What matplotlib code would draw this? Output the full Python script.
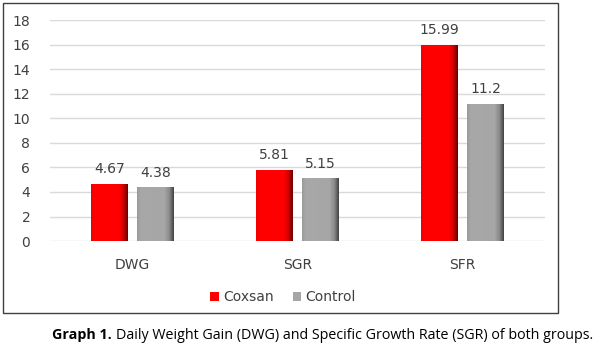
import numpy as np
import matplotlib.pyplot as plt
from matplotlib.patches import Rectangle
from matplotlib.colors import LinearSegmentedColormap

categories = ['DWG', 'SGR', 'SFR']
coxsan = [4.67, 5.81, 15.99]
control = [4.38, 5.15, 11.2]
coxsan_labels = ['4.67', '5.81', '15.99']
control_labels = ['4.38', '5.15', '11.2']

fig = plt.figure(figsize=(6, 3.52), dpi=100)
ax = fig.add_axes([0.083, 0.315, 0.825, 0.628])

x = np.arange(len(categories))
w = 0.22
off = 0.14

b1 = ax.bar(x - off, coxsan, w, color='#ff0000', label='Coxsan', zorder=2)
b2 = ax.bar(x + off, control, w, color='#a6a6a6', label='Control', zorder=2)

# shaded right edge on the bars (like the 3D look of the original)
grad = np.linspace(0, 1, 100).reshape(1, -1)
cm_red = LinearSegmentedColormap.from_list(
    'r', [(0, '#f00000'), (0.1, '#ff0000'), (0.75, '#ff0000'), (0.88, '#d00000'), (1, '#6a0000')])
cm_gray = LinearSegmentedColormap.from_list(
    'g', [(0, '#9a9a9a'), (0.1, '#a8a8a8'), (0.75, '#a6a6a6'), (0.88, '#8a8a8a'), (1, '#444444')])
for bars, cmap in [(b1, cm_red), (b2, cm_gray)]:
    for p in bars:
        x0, y0 = p.get_x(), p.get_y()
        im = ax.imshow(grad, cmap=cmap, aspect='auto', zorder=2.5,
                       extent=[x0, x0 + p.get_width(), y0, y0 + p.get_height()])
        im.set_clip_path(p)

for p, t in zip(b1, coxsan_labels):
    ax.text(p.get_x() + p.get_width() / 2, p.get_height() + 0.6, t,
            ha='center', va='bottom', fontsize=10, color='#404040')
for p, t in zip(b2, control_labels):
    ax.text(p.get_x() + p.get_width() / 2, p.get_height() + 0.6, t,
            ha='center', va='bottom', fontsize=10, color='#404040')

ax.set_xlim(-0.5, 2.5)
ax.set_ylim(0, 18)
ax.set_yticks(range(0, 19, 2))
ax.set_xticks(x)
ax.set_xticklabels(categories)
ax.tick_params(length=0, labelsize=10, labelcolor='#404040')
ax.tick_params(axis='x', pad=12)
ax.tick_params(axis='y', pad=14)
ax.grid(axis='y', color='#d9d9d9', lw=1, zorder=0)
for s in ax.spines.values():
    s.set_visible(False)

ax.legend(loc='center', bbox_to_anchor=(0.472, 0.156), bbox_transform=fig.transFigure,
          ncol=2, frameon=False, fontsize=10, handlelength=0.6, handleheight=0.6,
          handletextpad=0.3, columnspacing=1.4, labelcolor='#404040')

# outer frame around the chart
fig.patches.append(Rectangle((3 / 600, 1 - 313 / 352), 555 / 600, 310 / 352,
                             transform=fig.transFigure, fill=False,
                             edgecolor='#404040', lw=1))

# caption: bold part then normal part right after it
t1 = fig.text(52 / 600, 0.048, 'Graph 1.', fontsize=10.3, fontweight='bold',
              family='Open Sans', va='center')
fig.canvas.draw()
bb = t1.get_window_extent()
fig.text((bb.x1 + 4) / 600, 0.048,
         'Daily Weight Gain (DWG) and Specific Growth Rate (SGR) of both groups.',
         fontsize=10.3, family='Open Sans', va='center')

fig.savefig('out.png', dpi=100)
